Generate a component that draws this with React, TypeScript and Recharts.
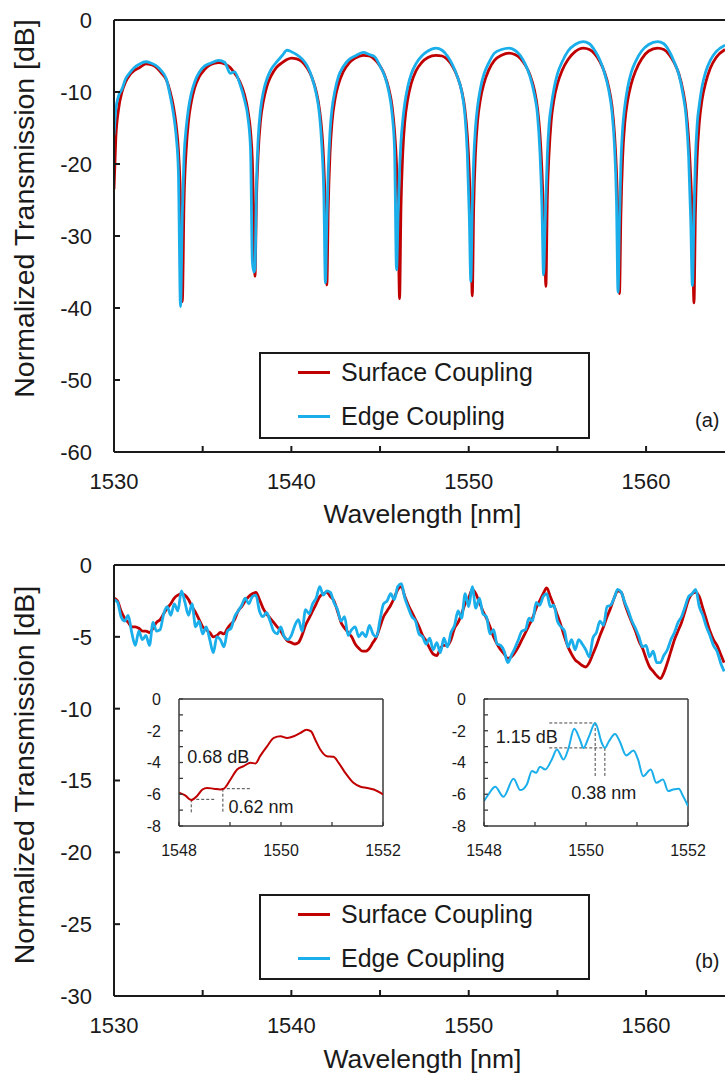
import React from 'react';
import { LineChart, Line, XAxis, YAxis, ReferenceLine, ReferenceDot, Legend } from 'recharts';

const RED = '#C00000';
const BLUE = '#1AAEEB';
const INK = '#1a1a1a';
const BOX = '#3a3a3a';
const FONT = '"Liberation Sans", Arial, Helvetica, sans-serif';

// ---- panel (a): full spectrum, resonance dips ----
const topWl = [
  1530.0, 1530.1, 1530.25, 1530.45, 1530.65, 1530.9, 1531.15, 1531.45, 1531.8, 1532.1, 1532.35, 1532.65, 1532.95, 1533.15, 1533.35, 1533.5, 1533.63, 1533.75,
  1533.85, 1533.95, 1534.07, 1534.2, 1534.35, 1534.55, 1534.8, 1535.1, 1535.45, 1535.9, 1536.25,
  1536.55, 1536.8, 1537.1, 1537.35, 1537.55, 1537.7, 1537.8, 1537.88, 1537.95, 1538.03, 1538.13,
  1538.26, 1538.42, 1538.62, 1538.85, 1539.15, 1539.5, 1539.75, 1540.0, 1540.3, 1540.6, 1540.9,
  1541.15, 1541.4, 1541.58, 1541.72, 1541.83, 1541.92, 1542.0, 1542.08, 1542.18, 1542.3, 1542.46,
  1542.66, 1542.92, 1543.25, 1543.6, 1544.05, 1544.4, 1544.7, 1545.0, 1545.25, 1545.5, 1545.68,
  1545.82, 1545.93, 1546.02, 1546.1, 1546.18, 1546.28, 1546.4, 1546.56, 1546.76, 1547.02, 1547.35,
  1547.7, 1548.15, 1548.5, 1548.8, 1549.1, 1549.35, 1549.6, 1549.78, 1549.92, 1550.03, 1550.12,
  1550.2, 1550.28, 1550.38, 1550.5, 1550.66, 1550.86, 1551.12, 1551.45, 1551.85, 1552.27, 1552.6,
  1552.9, 1553.2, 1553.45, 1553.7, 1553.88, 1554.02, 1554.13, 1554.22, 1554.3, 1554.35, 1554.43,
  1554.53, 1554.65, 1554.81, 1555.01, 1555.27, 1555.6, 1556.0, 1556.45, 1556.8, 1557.1, 1557.4,
  1557.65, 1557.9, 1558.08, 1558.22, 1558.33, 1558.42, 1558.5, 1558.58, 1558.68, 1558.8, 1558.96,
  1559.16, 1559.42, 1559.75, 1560.15, 1560.65, 1561.0, 1561.3, 1561.6, 1561.85, 1562.08, 1562.26,
  1562.4, 1562.52, 1562.61, 1562.7, 1562.78, 1562.88, 1563.0, 1563.16, 1563.36, 1563.62, 1563.95, 1564.45,
];
const topSurface = [
  -23.5, -16.5, -12.5, -10.0, -8.6, -7.6, -7.0, -6.6, -6.1, -6.2, -6.5, -7.3, -8.3, -9.8, -12.0, -14.5, -18.0, -25.0,
  -39.1, -25.0, -18.0, -14.0, -11.5, -9.4, -7.9, -6.9, -6.2, -5.9, -6.1,
  -6.6, -7.4, -8.6, -10.3, -12.6, -15.5, -19.5, -27.0, -35.6, -25.0, -18.5,
  -14.0, -11.3, -9.2, -7.8, -6.6, -5.9, -5.5, -5.3, -5.4, -5.8, -6.7,
  -7.9, -9.9, -12.3, -15.5, -20.0, -27.0, -36.8, -26.0, -18.5, -14.0, -11.0,
  -8.9, -7.2, -6.0, -5.3, -4.9, -5.0, -5.5, -6.4, -7.6, -9.6, -12.0,
  -15.5, -20.0, -27.0, -38.7, -26.0, -18.5, -14.0, -11.0, -8.8, -7.1, -5.9,
  -5.2, -4.9, -5.0, -5.5, -6.5, -7.8, -9.8, -12.3, -16.0, -21.0, -28.0,
  -38.3, -26.0, -18.5, -14.0, -11.0, -8.8, -7.0, -5.6, -4.9, -4.6, -4.8,
  -5.3, -6.3, -7.6, -9.7, -12.3, -16.0, -21.0, -27.0, -33.0, -37.0, -25.0,
  -18.5, -14.0, -11.0, -8.8, -7.0, -5.5, -4.4, -3.9, -4.1, -4.7, -5.8,
  -7.2, -9.4, -12.0, -15.8, -21.0, -28.0, -38.0, -27.0, -19.0, -14.3, -11.2,
  -8.9, -7.0, -5.4, -4.3, -3.9, -4.1, -4.8, -6.0, -7.5, -9.8, -12.6,
  -16.5, -22.0, -28.0, -39.3, -27.0, -19.0, -14.3, -11.0, -8.7, -6.7, -5.2, -4.1,
];
const topEdge = [
  -16.0, -12.5, -10.6, -9.6, -8.2, -7.3, -6.6, -6.1, -5.8, -6.0, -6.3, -7.0, -8.2, -10.3, -13.0, -16.0, -21.0, -39.8,
  -27.0, -19.0, -15.0, -12.3, -10.3, -8.6, -7.3, -6.4, -6.0, -5.6, -5.9,
  -7.4, -7.2, -8.9, -11.0, -13.5, -18.0, -33.5, -35.0, -34.5, -23.0, -16.5,
  -12.5, -10.0, -8.2, -6.9, -5.9, -4.9, -4.2, -4.4, -4.8, -5.4, -6.4,
  -7.9, -10.2, -13.0, -17.5, -24.0, -36.5, -28.0, -21.0, -15.5, -12.2, -9.8,
  -7.8, -6.5, -5.5, -5.0, -4.5, -4.8, -5.1, -6.4, -7.7, -10.0, -13.0,
  -18.0, -34.7, -27.0, -21.0, -17.0, -14.0, -11.5, -9.3, -7.5, -6.1, -5.0,
  -4.3, -3.9, -4.2, -5.0, -6.3, -7.8, -9.9, -13.0, -18.5, -27.0, -36.3,
  -26.0, -19.5, -15.0, -12.0, -9.5, -7.5, -6.0, -4.6, -4.1, -3.9, -4.2,
  -4.9, -6.2, -7.8, -10.3, -13.2, -18.5, -26.0, -35.4, -29.0, -25.0, -19.0,
  -14.5, -12.0, -9.5, -7.4, -5.8, -4.3, -3.4, -3.0, -3.3, -4.2, -5.6,
  -7.3, -9.8, -12.8, -17.5, -25.0, -37.8, -28.0, -20.0, -15.0, -12.0, -9.4,
  -7.3, -5.7, -4.3, -3.4, -3.0, -3.3, -4.3, -5.9, -7.6, -10.3, -13.5,
  -19.0, -28.0, -36.9, -27.0, -19.5, -14.5, -11.8, -9.2, -7.2, -5.6, -4.4, -3.5,
];

// ---- panel (b): zoomed transmission, ripple ----
const botWl = [
  1530.0, 1530.2, 1530.4, 1530.6, 1530.8, 1531.0, 1531.2, 1531.4, 1531.6, 1531.8,
  1532.0, 1532.2, 1532.4, 1532.6, 1532.8, 1533.0, 1533.2, 1533.4, 1533.6, 1533.8,
  1534.0, 1534.2, 1534.4, 1534.6, 1534.8, 1535.0, 1535.2, 1535.4, 1535.6, 1535.8,
  1536.0, 1536.2, 1536.4, 1536.6, 1536.8, 1537.0, 1537.2, 1537.4, 1537.6, 1537.8,
  1538.0, 1538.2, 1538.4, 1538.6, 1538.8, 1539.0, 1539.2, 1539.4, 1539.6, 1539.8,
  1540.0, 1540.2, 1540.4, 1540.6, 1540.8, 1541.0, 1541.2, 1541.4, 1541.6, 1541.8,
  1542.0, 1542.2, 1542.4, 1542.6, 1542.8, 1543.0, 1543.2, 1543.4, 1543.6, 1543.8,
  1544.0, 1544.2, 1544.4, 1544.6, 1544.8, 1545.0, 1545.2, 1545.4, 1545.6, 1545.8,
  1546.0, 1546.2, 1546.4, 1546.6, 1546.8, 1547.0, 1547.2, 1547.4, 1547.6, 1547.8,
  1548.0, 1548.2, 1548.4, 1548.6, 1548.8, 1549.0, 1549.2, 1549.4, 1549.6, 1549.8,
  1550.0, 1550.2, 1550.4, 1550.6, 1550.8, 1551.0, 1551.2, 1551.4, 1551.6, 1551.8,
  1552.0, 1552.2, 1552.4, 1552.6, 1552.8, 1553.0, 1553.2, 1553.4, 1553.6, 1553.8,
  1554.0, 1554.2, 1554.4, 1554.6, 1554.8, 1555.0, 1555.2, 1555.4, 1555.6, 1555.8,
  1556.0, 1556.2, 1556.4, 1556.6, 1556.8, 1557.0, 1557.2, 1557.4, 1557.6, 1557.8,
  1558.0, 1558.2, 1558.4, 1558.6, 1558.8, 1559.0, 1559.2, 1559.4, 1559.6, 1559.8,
  1560.0, 1560.2, 1560.4, 1560.6, 1560.8, 1561.0, 1561.2, 1561.4, 1561.6, 1561.8,
  1562.0, 1562.2, 1562.4, 1562.6, 1562.8, 1563.0, 1563.2, 1563.4, 1563.6, 1563.8,
  1564.0, 1564.2, 1564.4,
];
const botSurface = [
  -2.3, -2.5, -3.2, -3.7, -4.0, -4.3, -4.3, -4.4, -4.6, -4.6,
  -4.7, -4.4, -4.0, -3.8, -3.4, -3.0, -2.7, -2.3, -2.1, -2.0,
  -2.1, -2.4, -2.9, -3.3, -3.8, -4.3, -4.5, -4.7, -5.0, -4.9,
  -4.7, -4.8, -4.4, -4.1, -3.8, -3.2, -2.9, -2.5, -2.2, -2.0,
  -1.9, -2.4, -3.0, -3.4, -3.7, -4.0, -4.3, -4.6, -5.0, -5.3,
  -5.4, -5.5, -5.4, -4.9, -4.2, -3.7, -3.2, -2.7, -2.2, -2.0,
  -1.9, -2.2, -2.5, -3.2, -4.0, -4.4, -4.7, -5.0, -5.5, -5.8,
  -6.0, -6.0, -5.8, -5.4, -5.0, -4.3, -3.6, -3.2, -2.8, -2.3,
  -1.7, -1.5, -2.2, -2.8, -3.3, -3.8, -4.3, -4.9, -5.3, -5.8,
  -6.2, -6.3, -5.8, -5.6, -5.6, -5.2, -4.4, -4.0, -3.4, -2.7,
  -2.3, -1.7, -2.0, -2.6, -3.2, -3.7, -4.3, -5.0, -5.5, -5.9,
  -6.2, -6.5, -6.4, -6.1, -5.7, -5.2, -4.7, -4.2, -3.7, -3.0,
  -2.5, -2.0, -1.6, -2.2, -2.8, -3.5, -4.2, -5.0, -5.7, -6.2,
  -6.6, -6.8, -7.0, -7.1, -6.8, -6.2, -5.6, -4.9, -4.3, -3.6,
  -3.0, -2.3, -1.8, -1.9, -2.7, -3.4, -4.0, -4.6, -5.3, -5.8,
  -6.5, -7.1, -7.4, -7.7, -7.9, -7.5, -6.8, -6.0, -5.2, -4.6,
  -4.0, -3.2, -2.4, -2.0, -1.9, -2.2, -3.0, -3.8, -4.6, -5.2,
  -5.6, -6.2, -6.8,
];
const botEdge = [
  -2.4, -2.6, -3.6, -3.9, -3.5, -4.7, -5.6, -4.6, -5.2, -4.9,
  -5.6, -4.0, -4.6, -4.5, -3.4, -2.9, -3.5, -2.7, -3.2, -1.8,
  -2.6, -3.5, -2.7, -4.3, -3.9, -4.8, -4.3, -5.2, -6.1, -5.0,
  -5.2, -5.7, -4.6, -4.4, -3.6, -3.2, -2.8, -2.3, -2.7, -2.2,
  -2.1, -3.2, -3.6, -3.3, -3.9, -4.6, -4.8, -4.3, -5.0, -5.2,
  -4.9, -4.2, -3.8, -4.6, -3.1, -3.4, -2.7, -2.3, -1.5, -2.1,
  -1.8, -1.9, -2.6, -3.1, -3.9, -3.6, -4.9, -4.5, -4.3, -5.0,
  -4.7, -5.0, -4.2, -4.8, -5.0, -3.8, -2.7, -2.5, -2.0, -2.4,
  -1.5, -1.3, -2.3, -3.0, -3.6, -3.9, -4.8, -5.0, -5.5, -5.1,
  -5.9, -5.4, -6.1, -5.1, -5.7, -4.7, -4.2, -3.2, -3.7, -2.0,
  -2.9, -1.5, -3.0, -2.3, -3.4, -3.6, -4.8, -4.5, -5.5, -5.6,
  -6.0, -6.8, -6.3, -5.8, -5.2, -4.6, -4.5, -3.7, -3.9, -2.6,
  -2.8, -2.2, -2.0, -2.9, -2.8, -3.9, -4.3, -4.6, -5.7, -5.2,
  -5.9, -5.2, -5.5, -5.9, -6.4, -5.1, -4.7, -3.9, -4.2, -2.9,
  -2.8, -2.3, -1.7, -1.9, -2.6, -3.2, -3.9, -4.4, -5.0, -5.7,
  -5.6, -6.4, -6.0, -6.8, -6.8, -6.3, -5.9, -5.2, -4.7, -4.0,
  -3.6, -2.9, -2.2, -2.0, -1.7, -2.9, -3.5, -4.3, -4.9, -5.6,
  -6.0, -6.8, -7.4,
];

// ---- insets (1548-1552 nm) ----
const insetSurfaceWl = [
  1548.0, 1548.12, 1548.24, 1548.35, 1548.46, 1548.55, 1548.68, 1548.81, 1548.88, 1549.01,
  1549.14, 1549.27, 1549.4, 1549.5, 1549.59, 1549.73, 1549.86, 1549.99, 1550.12, 1550.25,
  1550.38, 1550.5, 1550.59, 1550.67, 1550.77, 1550.9, 1551.03, 1551.13, 1551.26, 1551.42,
  1551.56, 1551.69, 1551.82, 1552.0,
];
const insetSurfaceDb = [
  -5.9, -6.07, -6.37, -6.12, -5.7, -5.6, -5.65, -5.7, -5.65, -5.07,
  -4.44, -4.23, -4.02, -4.06, -3.6, -2.97, -2.45, -2.35, -2.45, -2.35,
  -2.14, -1.93, -2.04, -2.55, -3.18, -3.6, -3.64, -4.02, -4.65, -5.28,
  -5.53, -5.6, -5.7, -6.01,
];
const insetEdgeWl = [
  1548.0, 1548.09, 1548.22, 1548.38, 1548.58, 1548.71, 1548.84, 1548.94, 1549.02, 1549.1,
  1549.2, 1549.33, 1549.43, 1549.56, 1549.65, 1549.77, 1549.88, 1549.95, 1550.06, 1550.18,
  1550.31, 1550.37, 1550.45, 1550.57, 1550.66, 1550.79, 1550.93, 1551.02, 1551.12, 1551.27,
  1551.38, 1551.51, 1551.61, 1551.71, 1551.82, 1551.9, 1552.0,
];
const insetEdgeDb = [
  -6.43, -6.0, -5.53, -6.16, -5.03, -5.74, -5.38, -4.54, -4.65, -4.27,
  -4.44, -3.81, -3.18, -3.81, -3.18, -1.88, -2.55, -3.08, -2.35, -1.51,
  -2.77, -3.08, -2.66, -2.2, -2.66, -3.56, -3.25, -3.81, -4.86, -4.44,
  -5.28, -5.07, -5.8, -5.7, -5.65, -6.1, -6.74,
];

// dashed annotation segments [x1, y1, x2, y2] and labels [x, y, text]
const surfaceMarks = [
  [1548.84, -5.65, 1549.4, -5.65],
  [1548.24, -6.32, 1548.71, -6.32],
  [1548.24, -6.32, 1548.24, -7.2],
  [1548.86, -5.65, 1548.86, -7.2],
];
const surfaceNotes: [number, number, string][] = [
  [1548.16, -3.6, '0.68 dB'],
  [1548.97, -6.78, '0.62 nm'],
];
const edgeMarks = [
  [1549.28, -1.51, 1550.18, -1.51],
  [1549.28, -3.08, 1550.39, -3.08],
  [1550.18, -1.51, 1550.18, -4.9],
  [1550.37, -3.08, 1550.37, -4.9],
];
const edgeNotes: [number, number, string][] = [
  [1548.23, -2.37, '1.15 dB'],
  [1549.71, -5.9, '0.38 nm'],
];

const mainXTicks = [1530, 1535, 1540, 1545, 1550, 1555, 1560];
const mainXLabels = [1530, 1540, 1550, 1560];
const topYTicks = [0, -10, -20, -30, -40, -50, -60];
const botYTicks = [0, -5, -10, -15, -20, -25, -30];
const insetXTicks = [1548, 1549, 1550, 1551, 1552];
const insetXLabels = [1548, 1550, 1552];
const insetYTicks = [0, -1, -2, -3, -4, -5, -6, -7, -8];
const insetYLabels = [0, -2, -4, -6, -8];
const legendOrder = ['Surface Coupling', 'Edge Coupling'];

// ticks point into the plot, labels sit outside
const makeXTick = (labels: number[], len: number, gap: number, size: number, sw: number, color: string) => (props: any) => {
  const { x, y, payload } = props;
  return (
    <g>
      <line x1={x} x2={x} y1={y} y2={y - len} stroke={color} strokeWidth={sw} />
      {labels.includes(payload.value) && (
        <text x={x} y={y + gap} textAnchor="middle" fontSize={size} fontFamily={FONT} fill={INK}>
          {payload.value}
        </text>
      )}
    </g>
  );
};

const makeYTick = (labels: number[], len: number, gap: number, size: number, sw: number, color: string) => (props: any) => {
  const { x, y, payload } = props;
  return (
    <g>
      <line x1={x} x2={x + len} y1={y} y2={y} stroke={color} strokeWidth={sw} />
      {labels.includes(payload.value) && (
        <text x={x - gap} y={y} dy="0.36em" textAnchor="end" fontSize={size} fontFamily={FONT} fill={INK}>
          {payload.value}
        </text>
      )}
    </g>
  );
};

const LegendBox = ({ payload }: any) => {
  const items = [...(payload || [])].sort((a: any, b: any) => legendOrder.indexOf(a.value) - legendOrder.indexOf(b.value));
  return (
    <div style={{ marginTop: -3, paddingLeft: 37, fontFamily: FONT, fontSize: 25, color: INK }}>
      {items.map((p: any) => (
        <div key={p.value} style={{ display: 'flex', alignItems: 'center', height: 43.5 }}>
          <span style={{ display: 'inline-block', width: 32, height: 3, background: p.color, marginRight: 11 }} />
          <span>{p.value}</span>
        </div>
      ))}
    </div>
  );
};

interface PanelProps {
  top: number;
  wl: number[];
  surface: number[];
  edge: number[];
  yMin: number;
  yTicks: number[];
  axisH: number;
  titleY: number;
  legendTop: number;
  legendH: number;
  tag: string;
  tagTop: number;
}

const Panel = ({ top, wl, surface, edge, yMin, yTicks, axisH, titleY, legendTop, legendH, tag, tagTop }: PanelProps) => {
  const data = wl.map((w, i) => ({ wl: w, surface: surface[i], edge: edge[i] }));
  return (
    <div style={{ position: 'absolute', left: 0, top, width: 725, height: 535 }}>
      <LineChart width={725} height={535} data={data} margin={{ top: 20, right: 0, bottom: 0, left: 0 }}>
        <XAxis
          dataKey="wl"
          type="number"
          domain={[1530, 1564.45]}
          allowDataOverflow
          ticks={mainXTicks}
          interval={0}
          tickSize={0}
          tickMargin={0}
          tickLine={false}
          height={axisH}
          axisLine={{ stroke: INK, strokeWidth: 2 }}
          tick={makeXTick(mainXLabels, 6, 37, 22, 2, INK)}
          label={() => (
            <text x={422.5} y={523} textAnchor="middle" fontSize={26.5} fontFamily={FONT} fill={INK}>
              Wavelength [nm]
            </text>
          )}
        />
        <YAxis
          type="number"
          domain={[yMin, 0]}
          allowDataOverflow
          ticks={yTicks}
          interval={0}
          width={114}
          tickSize={0}
          tickMargin={0}
          tickLine={false}
          axisLine={{ stroke: INK, strokeWidth: 2 }}
          tick={makeYTick(yTicks, 6, 22, 22, 2, INK)}
          label={() => (
            <text
              transform={`translate(24 ${titleY}) rotate(-90)`}
              textAnchor="middle"
              dominantBaseline="central"
              fontSize={28.5}
              fontFamily={FONT}
              fill={INK}
            >
              Normalized Transmission [dB]
            </text>
          )}
        />
        <ReferenceLine y={0} stroke={INK} strokeWidth={2} />
        <Line type="monotone" dataKey="surface" name="Surface Coupling" stroke={RED} strokeWidth={2.8} dot={false} isAnimationActive={false} />
        <Line type="monotone" dataKey="edge" name="Edge Coupling" stroke={BLUE} strokeWidth={2.8} dot={false} isAnimationActive={false} />
        <Legend
          layout="vertical"
          align="center"
          verticalAlign="middle"
          content={LegendBox}
          wrapperStyle={{
            left: 259,
            top: legendTop,
            width: 331,
            height: legendH,
            border: `2px solid ${INK}`,
            boxSizing: 'border-box',
            background: '#fff',
          }}
        />
      </LineChart>
      <div style={{ position: 'absolute', left: 695, top: tagTop, fontSize: 20, lineHeight: '20px', fontFamily: FONT, color: INK }}>
        {tag}
      </div>
    </div>
  );
};

interface InsetProps {
  left: number;
  wl: number[];
  db: number[];
  color: string;
  marks: number[][];
  notes: [number, number, string][];
}

const Inset = ({ left, wl, db, color, marks, notes }: InsetProps) => {
  const data = wl.map((w, i) => ({ wl: w, db: db[i] }));
  return (
    <div style={{ position: 'absolute', left, top: 680, width: 285, height: 190 }}>
      <LineChart width={285} height={190} data={data} margin={{ top: 19, right: 30, bottom: 0, left: 0 }}>
        <XAxis
          dataKey="wl"
          type="number"
          domain={[1548, 1552]}
          allowDataOverflow
          ticks={insetXTicks}
          interval={0}
          tickSize={0}
          tickMargin={0}
          tickLine={false}
          height={44}
          axisLine={{ stroke: BOX, strokeWidth: 1.5 }}
          tick={makeXTick(insetXLabels, 4, 30, 16, 1.3, BOX)}
        />
        <YAxis
          type="number"
          domain={[-8, 0]}
          allowDataOverflow
          ticks={insetYTicks}
          interval={0}
          width={51}
          tickSize={0}
          tickMargin={0}
          tickLine={false}
          axisLine={{ stroke: BOX, strokeWidth: 1.5 }}
          tick={makeYTick(insetYLabels, 4, 18, 16, 1.3, BOX)}
        />
        <ReferenceLine y={0} stroke={BOX} strokeWidth={1.5} />
        <ReferenceLine x={1552} stroke={BOX} strokeWidth={1.5} />
        {marks.map((m, i) => (
          <ReferenceLine
            key={`m${i}`}
            segment={[{ x: m[0], y: m[1] }, { x: m[2], y: m[3] }]}
            stroke="#444"
            strokeWidth={1}
            strokeDasharray="3 2"
          />
        ))}
        <Line type="monotone" dataKey="db" stroke={color} strokeWidth={2} dot={false} isAnimationActive={false} />
        {notes.map(([x, y, t]) => (
          <ReferenceDot
            key={t}
            x={x}
            y={y}
            r={0}
            fill="none"
            stroke="none"
            label={{ value: t, position: 'right', offset: 0, fontSize: 18, fill: INK, fontFamily: FONT }}
          />
        ))}
      </LineChart>
    </div>
  );
};

export default function App() {
  return (
    <div
      style={{
        position: 'absolute',
        left: 0,
        top: 0,
        width: 725,
        height: 1075,
        overflow: 'hidden',
        background: '#fff',
        fontFamily: FONT,
      }}
    >
      <Panel
        top={0}
        wl={topWl}
        surface={topSurface}
        edge={topEdge}
        yMin={-60}
        yTicks={topYTicks}
        axisH={83}
        titleY={208.5}
        legendTop={352}
        legendH={87}
        tag="(a)"
        tagTop={410}
      />
      <Panel
        top={545}
        wl={botWl}
        surface={botSurface}
        edge={botEdge}
        yMin={-30}
        yTicks={botYTicks}
        axisH={84}
        titleY={230}
        legendTop={349}
        legendH={86}
        tag="(b)"
        tagTop={406}
      />
      <Inset left={128} wl={insetSurfaceWl} db={insetSurfaceDb} color={RED} marks={surfaceMarks} notes={surfaceNotes} />
      <Inset left={433} wl={insetEdgeWl} db={insetEdgeDb} color={BLUE} marks={edgeMarks} notes={edgeNotes} />
    </div>
  );
}
